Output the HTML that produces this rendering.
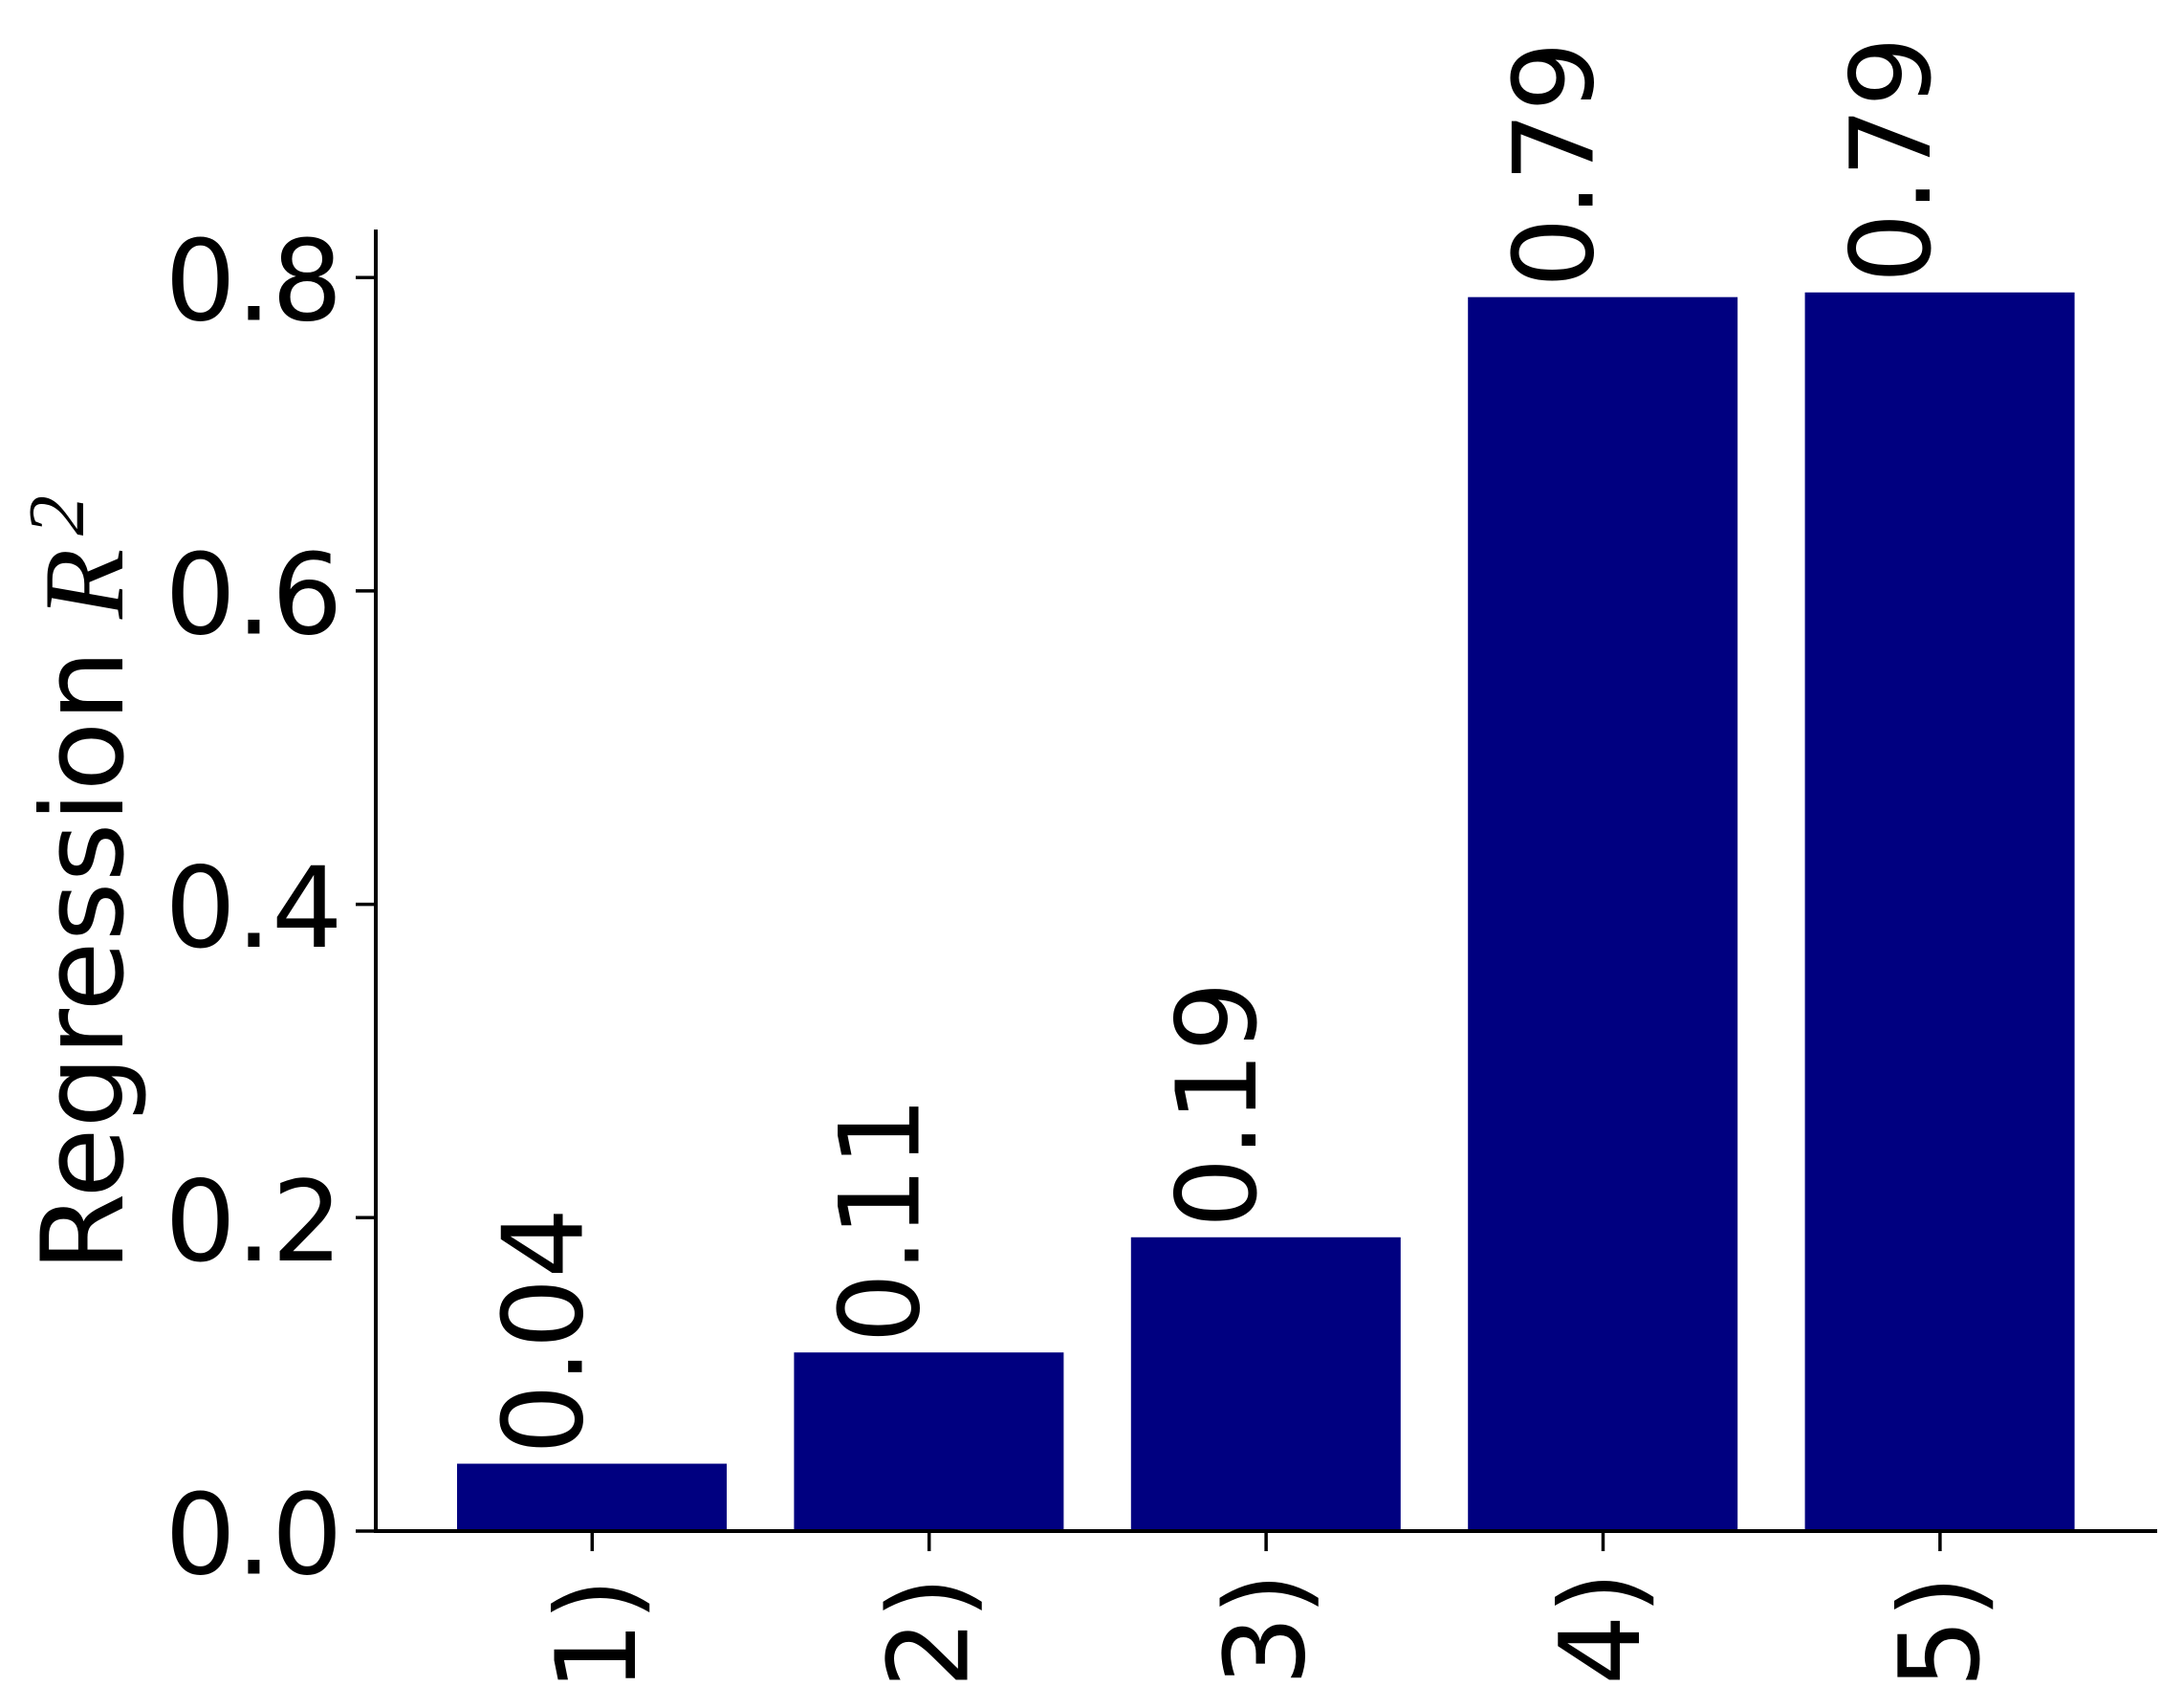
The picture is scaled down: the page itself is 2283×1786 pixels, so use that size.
<!DOCTYPE html>
<html lang="en">
<head>
<meta charset="utf-8">
<title>Regression R² bar chart</title>
<style>
  html, body { margin: 0; padding: 0; background: #ffffff; }
  svg { display: block; }
  text { font-family: "DejaVu Sans", "Liberation Sans", sans-serif; fill: #000000; }
</style>
</head>
<body>
<svg id="chart" xmlns="http://www.w3.org/2000/svg" width="2283" height="1786" viewBox="0 0 2283 1786">
  <defs>
    <clipPath id="page-clip"><rect x="0" y="0" width="2283" height="1756.5"></rect></clipPath>
  </defs>
  <rect x="0" y="0" width="2283" height="1786" fill="#ffffff"></rect>
  <g id="bars"></g>
  <g id="bar-labels"></g>
  <g id="y-axis"></g>
  <g id="x-axis" clip-path="url(#page-clip)"></g>
  <g>
    <text transform="translate(128,1330) rotate(-90)" font-size="119">Regression</text>
    <text transform="translate(128,647) rotate(-90)" font-size="120" font-style="italic" style="font-family:'Liberation Serif',serif">R</text>
    <text transform="translate(87,560) rotate(-90)" font-size="84" font-style="italic" style="font-family:'Liberation Serif',serif">2</text>
  </g>
</svg>
<script>
const categories = ['1)', '2)', '3)', '4)', '5)'];
const barValues = [0.043, 0.114, 0.1875, 0.7875, 0.7905];
const barLabels = ['0.04', '0.11', '0.19', '0.79', '0.79'];
const yTickValues = [0.0, 0.2, 0.4, 0.6, 0.8];
const yTickLabels = ['0.0', '0.2', '0.4', '0.6', '0.8'];

const NS = 'http://www.w3.org/2000/svg';
const BASE_Y = 1601;
const PX_PER_UNIT = 1638.5;
const FIRST_X = 619.3;
const STEP_X = 352.4;
const BAR_W = 282;
const FONT = 116;
// per-label layout nudges matching the reference's offsets
const catNudgeX = [7.5, 3, 2.5, 0.5, 3];
const catNudgeY = [6, 4, 0, -1, 3];

function yScale(v) { return BASE_Y - v * PX_PER_UNIT; }
function xScale(i) { return FIRST_X + i * STEP_X; }
function make(tag, parent) {
  const el = document.createElementNS(NS, tag);
  parent.appendChild(el);
  return el;
}
function setAll(el, props) {
  for (const k in props) el.setAttribute(k, props[k]);
}

const barsG = document.getElementById('bars');
const labelsG = document.getElementById('bar-labels');
const yG = document.getElementById('y-axis');
const xG = document.getElementById('x-axis');

barValues.forEach(function (v, i) {
  const bar = make('rect', barsG);
  
  
  setAll(bar, { x: xScale(i) - BAR_W / 2 - 0.3, y: yScale(v), width: BAR_W, height: BASE_Y - yScale(v), fill: '#000080' });

  const lab = make('text', labelsG);
  
  
  setAll(lab, { transform: 'translate(' + (xScale(i) - 11) + ',' + (yScale(v) - 9.5) + ') rotate(-90)', 'font-size': FONT });
  lab.textContent = barLabels[i];
});

yTickValues.forEach(function (v, i) {
  const tick = make('line', yG);
  
  
  setAll(tick, { x1: 372, x2: 393, y1: yScale(v), y2: yScale(v), stroke: '#000', 'stroke-width': 3.5 });

  const lab = make('text', yG);
  
  
  setAll(lab, { x: 358.5, y: yScale(v) + 44.5, 'text-anchor': 'end', 'font-size': 117 });
  lab.textContent = yTickLabels[i];
});

const ySpine = make('line', yG);


setAll(ySpine, { x1: 393, x2: 393, y1: 240, y2: BASE_Y + 2, stroke: '#000', 'stroke-width': 4 });

const xSpine = make('line', xG);


setAll(xSpine, { x1: 391, x2: 2256, y1: BASE_Y, y2: BASE_Y, stroke: '#000', 'stroke-width': 4 });

categories.forEach(function (c, i) {
  const tick = make('line', xG);
  
  
  setAll(tick, { x1: xScale(i), x2: xScale(i), y1: BASE_Y, y2: 1622, stroke: '#000', 'stroke-width': 3.5 });

  const lab = make('text', xG);
  
  
  setAll(lab, { transform: 'translate(' + (xScale(i) + 37 + catNudgeX[i]) + ',' + (1644 + catNudgeY[i]) + ') rotate(-90)', 'text-anchor': 'end', 'font-size': FONT });
  lab.textContent = c;
});
</script>
</body>
</html>
